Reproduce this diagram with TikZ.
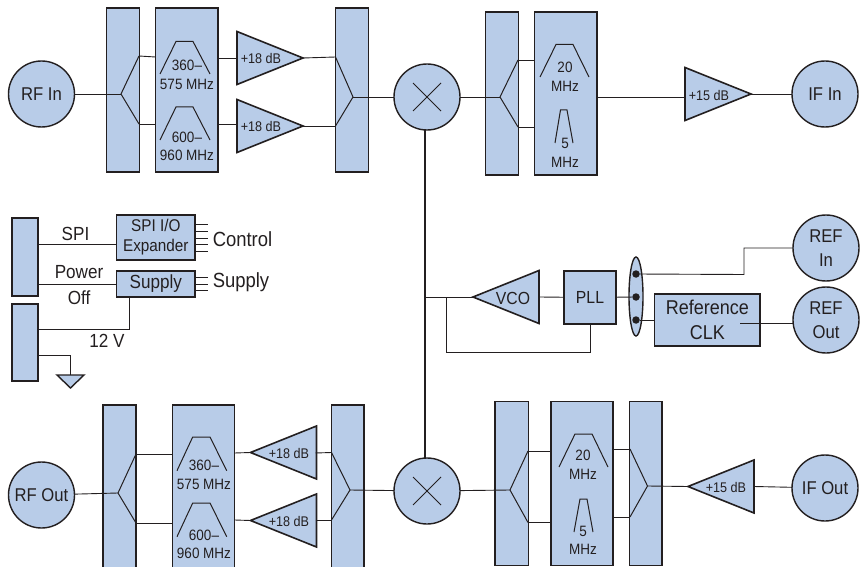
\documentclass[tikz,border=0pt]{standalone}
\usepackage{fontspec}
\setmainfont{Liberation Sans}[FakeStretch=0.9]
\usetikzlibrary{shapes.geometric}
\definecolor{blockblue}{HTML}{B8CCE8}
\definecolor{inkdark}{HTML}{231F20}
\tikzset{
    block/.style={draw=inkdark, line width=1.6pt, fill=blockblue, inner sep=0pt, outer sep=0pt},
    port/.style={circle, draw=inkdark, line width=1.4pt, fill=blockblue, minimum size=66pt, inner sep=0pt, outer sep=0pt, align=center, text=inkdark, font=\fontsize{18.5}{24}\selectfont},
    amp/.style={isosceles triangle, isosceles triangle stretches, draw=inkdark, line width=1.6pt, fill=blockblue, minimum width=53pt, minimum height=66pt, inner sep=0pt, outer sep=0pt},
    wire/.style={draw=inkdark, line width=0.9pt},
    filtersym/.style={draw=inkdark, line width=1pt},
    small/.style={text=inkdark, align=center, font=\fontsize{15}{18.5}\selectfont},
    gain/.style={text=inkdark, font=\fontsize{14}{16}\selectfont},
    big/.style={text=inkdark, align=center, font=\fontsize{19}{26}\selectfont},
    bigger/.style={text=inkdark, font=\fontsize{20.5}{24}\selectfont}
}
\begin{document}
\begin{tikzpicture}[x=1pt,y=-1pt]
    \useasboundingbox (0,0) rectangle (860,567);
    \clip (0,0) rectangle (860,567);

    % RF input chain
    \node[port] (rfin) at (41.5,94) {RF In};
    \node[block, minimum width=33pt, minimum height=164pt] (splita) at (123,90) {};
    \node[block, minimum width=62.5pt, minimum height=164pt] (filta) at (186.8,90) {};
    \node[amp, anchor=apex] (ampa) at (303,58) {};
    \node[amp, anchor=apex] (ampb) at (303,126) {};
    \node[block, minimum width=33pt, minimum height=164pt] (combb) at (352,90) {};
    \node[port] (mixa) at (427,97) {};
    \node[gain] (ampalab) at (261,58) {+18 dB};
    \node[gain] (ampblab) at (261,126) {+18 dB};
    \node[small] (filtalab) at (187,75) {360–\\575 MHz};
    \node[small] (filtblab) at (187,146.5) {600–\\960 MHz};
    \coordinate (splitatip) at (121,94);
    \coordinate (splitaup) at (139,56);
    \coordinate (splitadn) at (139,124);
    \coordinate (combbtip) at (353,97);
    \coordinate (combbup) at (335.5,57);
    \coordinate (combbdn) at (335.5,126);
    \draw[wire] (rfin) -- (splitatip);
    \draw[filtersym] (splitaup) -- (splitatip) -- (splitadn);
    \draw[wire] (splitaup) -- (155.5,57);
    \draw[wire] (splitadn) -- (155.5,124);
    \draw[wire] (218,58) -- (ampa.lower side |- 0,58);
    \draw[wire] (218,124) -- (ampb.lower side |- 0,124);
    \draw[wire] (ampa.apex) -- (combbup);
    \draw[wire] (ampb.apex) -- (combbdn);
    \draw[filtersym] (combbup) -- (combbtip) -- (combbdn);
    \draw[wire] (combbtip) -- (mixa);
    \draw[filtersym] (160,74) -- (176,41.5) -- (193,41.5) -- (210,74);
    \draw[filtersym] (160,140) -- (176,107) -- (193,107) -- (210,140);
    \draw[filtersym] (413,83) -- (441,111);
    \draw[filtersym] (413,111) -- (441,83);

    % IF input chain
    \node[block, minimum width=33pt, minimum height=163pt] (splitc) at (502,93.5) {};
    \node[block, minimum width=62.5pt, minimum height=163pt] (filtc) at (565.8,93.5) {};
    \node[amp, anchor=apex] (ampc) at (751,94) {};
    \node[port] (ifin) at (825,94) {IF In};
    \node[gain] (ampclab) at (709,95) {+15 dB};
    \node[small] (filtclab) at (565,77) {20\\MHz};
    \node[small] (filtdlab) at (565,153) {5\\MHz};
    \coordinate (splitctip) at (500,97);
    \coordinate (splitcup) at (518,60);
    \coordinate (splitcdn) at (518,127);
    \draw[wire] (mixa) -- (splitctip);
    \draw[filtersym] (splitcup) -- (splitctip) -- (splitcdn);
    \draw[wire] (splitcup) -- (534.5,60);
    \draw[wire] (splitcdn) -- (534.5,127);
    \draw[wire] (597,97) -- (685,97);
    \draw[wire] (ampc.apex) -- (ifin);
    \draw[filtersym] (540,77) -- (556,44.5) -- (573,44.5) -- (589,77);
    \draw[filtersym] (555,143) -- (560.5,110) -- (567,110) -- (573,143);

    % control side
    \node[block, minimum width=26pt, minimum height=78pt] (conna) at (25,257) {};
    \node[block, minimum width=26pt, minimum height=77pt] (connb) at (25,342.5) {};
    \node[block, minimum width=78.5pt, minimum height=45pt, align=center, text=inkdark, font=\fontsize{17}{20}\selectfont] (spiio) at (155.8,237.5) {SPI I/O\\Expander};
    \node[block, minimum width=78.5pt, minimum height=26pt, text=inkdark, font=\fontsize{19}{20}\selectfont] (supply) at (155.8,284) {Supply};
    \node[big] (spilab) at (75.5,234) {SPI};
    \node[big] (powerlab) at (79,285) {Power\\Off};
    \node[big] (twelvelab) at (107,341) {12 V};
    \node[bigger] (controllab) at (242.5,239) {Control};
    \node[bigger] (supplylab) at (241,282) {Supply};
    \coordinate (gndtop) at (70.5,375);
    \draw[wire] (conna.east |- 0,244) -- (spiio.west |- 0,244);
    \draw[wire] (conna.east |- 0,284) -- (supply.west |- 0,284);
    \draw[wire] (supply.south -| 129,0) -- (129,329) -- (connb.east |- 0,329);
    \draw[wire] (connb.east |- 0,355) -- (70.5,355) -- (gndtop);
    \draw[block, line width=1.4pt] (57,375) -- (84,375) -- (70.5,388) -- cycle;
    \foreach \y in {224,231,238,244,251} {
        \draw[wire] (spiio.east |- 0,\y) -- (208,\y);
    }
    \foreach \y in {277,284,290} {
        \draw[wire] (supply.east |- 0,\y) -- (208,\y);
    }

    % reference and LO
    \node[amp, anchor=apex, shape border rotate=180] (vco) at (473,297) {};
    \node[text=inkdark, font=\fontsize{17.5}{20}\selectfont] (vcolab) at (513,298) {VCO};
    \node[block, minimum width=52pt, minimum height=53pt, text=inkdark, font=\fontsize{17.5}{20}\selectfont] (pll) at (590,297.5) {PLL};
    \node[ellipse, draw=inkdark, line width=1.4pt, fill=blockblue, minimum width=14pt, minimum height=79pt, inner sep=0pt, outer sep=0pt] (bus) at (636,296.5) {};
    \node[circle, fill=inkdark, minimum size=7.5pt, inner sep=0pt] (busa) at (636,274) {};
    \node[circle, fill=inkdark, minimum size=7.5pt, inner sep=0pt] (busb) at (636,297) {};
    \node[circle, fill=inkdark, minimum size=7.5pt, inner sep=0pt] (busc) at (636,320) {};
    \node[block, minimum width=105.5pt, minimum height=52.5pt, align=center, text=inkdark, font=\fontsize{20}{24}\selectfont] (refclk) at (707.3,320) {Reference\\[1pt]CLK};
    \node[port] (refin) at (826,248) {REF\\In};
    \node[port] (refout) at (826,320) {REF\\Out};
    \coordinate (lotap) at (425,297);
    \coordinate (fbtap) at (446,297);
    \coordinate (clkout) at (740,323);
    \draw[wire] (lotap) -- (vco.apex);
    \draw[wire] (fbtap) -- (446,352) -- (590.5,352) -- (590.5,324);
    \draw[wire] (vco.lower side) -- (pll);
    \draw[wire] (pll) -- (busb);
    \draw[wire] (busa) -- (744,274.5) -- (744,248) -- (refin);
    \draw[wire] (busc) -- (refclk.west |- busc);
    \draw[wire] (clkout) -- (793,323);

    % RF output chain
    \node[port] (rfout) at (41.5,495) {RF Out};
    \node[block, minimum width=33pt, minimum height=180pt] (splite) at (119.5,495) {};
    \node[block, minimum width=62pt, minimum height=180pt] (filte) at (203.5,495) {};
    \node[amp, anchor=apex, shape border rotate=180] (ampe) at (250.5,452.5) {};
    \node[amp, anchor=apex, shape border rotate=180] (ampf) at (250.5,520.5) {};
    \node[block, minimum width=32.5pt, minimum height=180pt] (combf) at (347.8,495) {};
    \node[port] (mixb) at (427,491) {};
    \node[gain] (ampelab) at (289,453) {+18 dB};
    \node[gain] (ampflab) at (289,521) {+18 dB};
    \node[small] (filtelab) at (204,475) {360–\\575 MHz};
    \node[small] (filtflab) at (204,544.5) {600–\\960 MHz};
    \coordinate (splitetip) at (118,493);
    \coordinate (spliteup) at (136,454);
    \coordinate (splitedn) at (136,523);
    \coordinate (combftip) at (350,490);
    \coordinate (combfup) at (331.5,452.5);
    \coordinate (combfdn) at (331.5,520);
    \draw[wire] (rfout) -- (splitetip);
    \draw[filtersym] (spliteup) -- (splitetip) -- (splitedn);
    \draw[wire] (spliteup) -- (172.5,454);
    \draw[wire] (splitedn) -- (172.5,523);
    \draw[wire] (234.5,453) -- (ampe.apex);
    \draw[wire] (234.5,520) -- (ampf.apex);
    \draw[wire] (315.5,453) -- (combfup);
    \draw[wire] (315.5,520) -- (combfdn);
    \draw[filtersym] (combfup) -- (combftip) -- (combfdn);
    \draw[wire] (combftip) -- (mixb);
    \draw[filtersym] (177,470.7) -- (192.7,437) -- (210,437) -- (226.7,470.7);
    \draw[filtersym] (177,536.7) -- (192.7,503) -- (210,503) -- (226.7,536.7);
    \draw[filtersym] (413,477) -- (441,505);
    \draw[filtersym] (413,505) -- (441,477);

    % IF output chain
    \node[block, minimum width=33.5pt, minimum height=164pt] (splitg) at (511.8,483.5) {};
    \node[block, minimum width=62pt, minimum height=164pt] (filtg) at (582,483.5) {};
    \node[block, minimum width=32.5pt, minimum height=164pt] (combh) at (645.8,483.5) {};
    \node[amp, anchor=apex, shape border rotate=180] (amph) at (688,486.5) {};
    \node[port] (ifout) at (825,488) {IF Out};
    \node[gain] (amphlab) at (726,487) {+15 dB};
    \node[small] (filtglab) at (583,465) {20\\MHz};
    \node[small] (filthlab) at (583,540.5) {5\\MHz};
    \coordinate (splitgtip) at (510,490);
    \coordinate (splitgup) at (528,451);
    \coordinate (splitgdn) at (528,522.5);
    \coordinate (combhtip) at (647.5,486);
    \coordinate (combhup) at (630,449);
    \coordinate (combhdn) at (630,517);
    \draw[wire] (mixb) -- (splitgtip);
    \draw[filtersym] (splitgup) -- (splitgtip) -- (splitgdn);
    \draw[wire] (splitgup) -- (551,451);
    \draw[wire] (splitgdn) -- (551,522.5);
    \draw[wire] (613,449) -- (combhup);
    \draw[wire] (613,517) -- (combhdn);
    \draw[filtersym] (combhup) -- (combhtip) -- (combhdn);
    \draw[wire] (combhtip) -- (amph.apex);
    \draw[wire] (amph.lower side) -- (ifout);
    \draw[filtersym] (559,467) -- (575,434) -- (592,434) -- (608,467);
    \draw[filtersym] (574,532) -- (580,499) -- (587,499) -- (593,532);

    % LO feed between the mixers
    \draw[wire, line width=1.2pt] (mixa.south -| lotap) -- (mixb.north -| lotap);
\end{tikzpicture}
\end{document}
